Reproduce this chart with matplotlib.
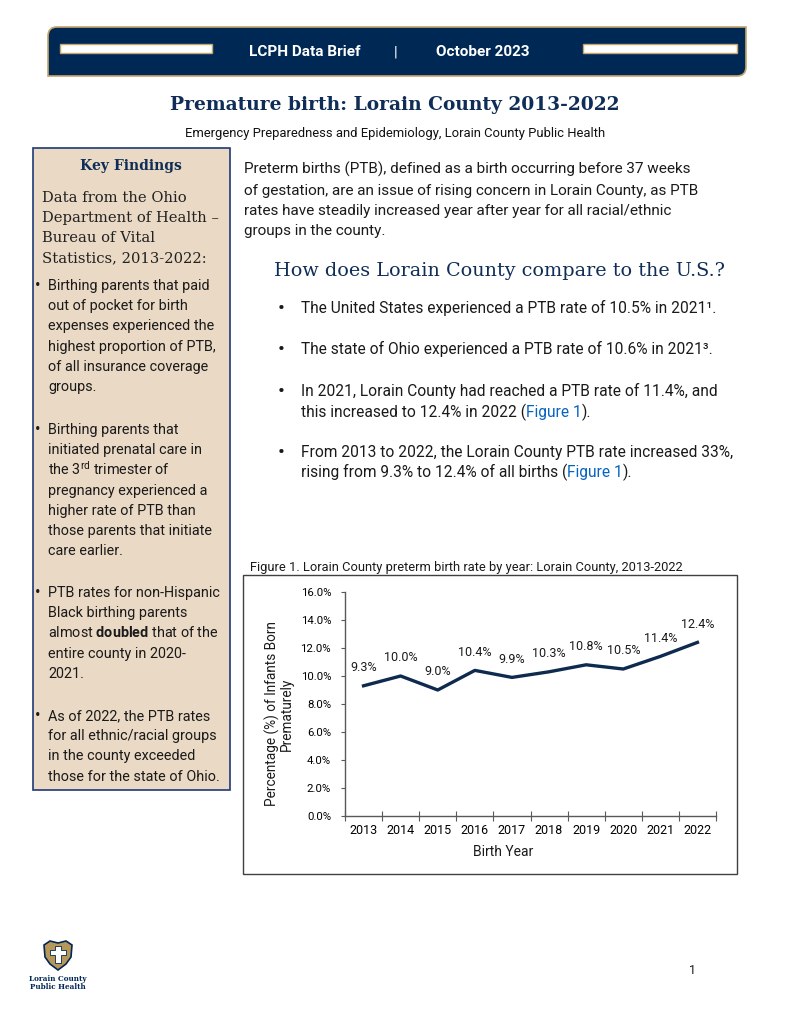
import numpy as np
import matplotlib.pyplot as plt
from matplotlib.patches import Rectangle, PathPatch, Polygon
from matplotlib.path import Path

W, H = 791, 1024

years = [2013, 2014, 2015, 2016, 2017, 2018, 2019, 2020, 2021, 2022]
ptb_rate = [9.3, 10.0, 9.0, 10.4, 9.9, 10.3, 10.8, 10.5, 11.4, 12.4]
y_ticks = [0, 2, 4, 6, 8, 10, 12, 14, 16]

key_intro = ["Data from the Ohio", "Department of Health \u2013",
             "Bureau of Vital", "Statistics, 2013-2022:"]
key_bullets = [
    ["Birthing parents that paid", "out of pocket for birth",
     "expenses experienced the", "highest proportion of PTB,",
     "of all insurance coverage", "groups."],
    ["Birthing parents that", "initiated prenatal care in",
     "the 3$^{\\rm rd}$ trimester of", "pregnancy experienced a",
     "higher rate of PTB than", "those parents that initiate",
     "care earlier."],
    ["PTB rates for non-Hispanic", "Black birthing parents",
     "almost $\\bf{doubled}$ that of the", "entire county in 2020-",
     "2021."],
    ["As of 2022, the PTB rates", "for all ethnic/racial groups",
     "in the county exceeded", "those for the state of Ohio."],
]
intro_lines = ["Preterm births (PTB), defined as a birth occurring before 37 weeks",
               "of gestation, are an issue of rising concern in Lorain County, as PTB",
               "rates have steadily increased year after year for all racial/ethnic",
               "groups in the county."]

NAVY = "#002855"
TITLE = "#0f2d56"
GOLD = "#c4a56a"
BEIGE = "#ead9c4"
TEXT = "#1a1a1a"
LINK = "#0563c1"
LINE = "#0e2a4e"
SANS = ["Roboto", "DejaVu Sans"]
SERIF = ["DejaVu Serif"]

plt.rcParams["mathtext.fontset"] = "custom"
plt.rcParams["mathtext.rm"] = "Roboto"
plt.rcParams["mathtext.bf"] = "Roboto:bold"
plt.rcParams["mathtext.it"] = "Roboto:italic"

fig = plt.figure(figsize=(W / 100, H / 100), dpi=100)
bg = fig.add_axes([0, 0, 1, 1])
bg.set_xlim(0, W)
bg.set_ylim(H, 0)
bg.axis("off")


def put(x, y, s, size, color=TEXT, family=SANS, weight="normal", ha="left"):
    return bg.text(x, y, s, fontsize=size, color=color, family=family,
                   fontweight=weight, ha=ha, va="baseline")


def runs(x, y, parts, size):
    r = fig.canvas.get_renderer()
    for s, color in parts:
        t = put(x, y, s, size, color=color)
        x += t.get_window_extent(r).width


# header banner: rounded top-left and bottom-right corners
x0, x1, y0, y1, rr = 48, 746, 27, 76, 9
verts = [(x0 + rr, y0), (x1, y0), (x1, y1 - rr), (x1, y1), (x1 - rr, y1),
         (x0, y1), (x0, y0 + rr), (x0, y0), (x0 + rr, y0)]
codes = [Path.MOVETO, Path.LINETO, Path.LINETO, Path.CURVE3, Path.CURVE3,
         Path.LINETO, Path.LINETO, Path.CURVE3, Path.CURVE3]
bg.add_patch(PathPatch(Path(verts, codes), facecolor=NAVY, edgecolor=GOLD, lw=1.2))
bg.add_patch(Rectangle((60, 44), 152, 9, facecolor="white", edgecolor=GOLD, lw=1))
bg.add_patch(Rectangle((583, 44), 154, 9, facecolor="white", edgecolor=GOLD, lw=1))
put(305, 56, "LCPH Data Brief", 11, color="white", weight="bold", ha="center")
put(396, 56, "|", 11, color="white", ha="center")
put(483, 56, "October 2023", 11, color="white", weight="bold", ha="center")

put(395, 110, "Premature birth: Lorain County 2013-2022", 13.4, color=TITLE,
    family=SERIF, weight="bold", ha="center")
put(395, 137, "Emergency Preparedness and Epidemiology, Lorain County Public Health",
    9.4, color="#111111", ha="center")

# key findings side box
bg.add_patch(Rectangle((33, 148), 197, 642, facecolor=BEIGE, edgecolor="#1f3a78", lw=1.2))
put(131, 170, "Key Findings", 10, color=TITLE, family=SERIF, weight="bold", ha="center")
for i, line in enumerate(key_intro):
    put(42, 202 + i * 20, line, 10.6, color="#222222", family=SERIF)
bullet_y = [290, 434, 597, 720]
for by, lines in zip(bullet_y, key_bullets):
    put(35, by, "\u2022", 12)
    for i, line in enumerate(lines):
        put(48, by + i * 20.2, line, 10.4)

# right column text
for i, line in enumerate(intro_lines):
    put(244, 174 + i * 20.5, line, 11)
put(274, 276, "How does Lorain County compare to the U.S.?", 13.8, color=TITLE, family=SERIF)

BS = 11.2
put(278, 314, "\u2022", 15)
put(301, 313, "The United States experienced a PTB rate of 10.5% in 2021\u00b9.", BS)
put(278, 355, "\u2022", 15)
put(301, 354, "The state of Ohio experienced a PTB rate of 10.6% in 2021\u00b3.", BS)
put(278, 397, "\u2022", 15)
put(301, 396, "In 2021, Lorain County had reached a PTB rate of 11.4%, and", BS)
runs(301, 417, [("this increased to 12.4% in 2022 (", TEXT), ("Figure 1", LINK),
                (").", TEXT)], BS)
put(278, 458, "\u2022", 15)
put(301, 457, "From 2013 to 2022, the Lorain County PTB rate increased 33%,", BS)
runs(301, 477, [("rising from 9.3% to 12.4% of all births (", TEXT), ("Figure 1", LINK),
                (").", TEXT)], BS)

# figure 1
put(250, 571, "Figure 1. Lorain County preterm birth rate by year: Lorain County, 2013-2022", 9.3)
bg.add_patch(Rectangle((243, 575), 494, 299, facecolor="white", edgecolor="#404040", lw=1))

ax = fig.add_axes([345 / W, 1 - 816 / H, 371 / W, 224 / H])
xs = np.arange(len(years))
ax.plot(xs, ptb_rate, color=LINE, lw=2.4, solid_joinstyle="round")
for xi, v in zip(xs, ptb_rate):
    ax.annotate(f"{v:.1f}%", (xi, v), xytext=(0, 13), textcoords="offset points",
                ha="center", va="center", fontsize=9, family=SANS, color=TEXT)
ax.set_xlim(-0.5, len(years) - 0.5)
ax.set_ylim(0, 16)
ax.set_yticks(y_ticks)
ax.set_yticklabels([f"{v:.1f}%" for v in y_ticks], family=SANS, fontsize=8.2)
ax.set_xticks(np.arange(len(years) + 1) - 0.5)
ax.set_xticklabels([])
ax.set_xticks(xs, minor=True)
ax.set_xticklabels([str(y) for y in years], minor=True, family=SANS, fontsize=9)
ax.tick_params(axis="x", which="major", direction="inout", length=7, color="#595959")
ax.tick_params(axis="x", which="minor", length=0, pad=6)
ax.tick_params(axis="y", length=3, pad=7, color="#595959")
for s in ("top", "right"):
    ax.spines[s].set_visible(False)
for s in ("left", "bottom"):
    ax.spines[s].set_color("#595959")
    ax.spines[s].set_linewidth(1)
ax.patch.set_alpha(0)

bg.text(279, 714, "Percentage (%) of Infants Born\nPrematurely", rotation=90,
        ha="center", va="center", fontsize=9.8, family=SANS, color=TEXT,
        multialignment="center", linespacing=1.0)
put(503, 856, "Birth Year", 10, ha="center")

# footer logo and page number
bg.add_patch(Polygon([(44, 945), (50, 941), (58, 943), (66, 941), (72, 945),
                      (71, 957), (66, 964), (58, 970), (50, 964), (45, 957)],
                     closed=True, facecolor="#b8975a", edgecolor=NAVY, lw=1.2))
bg.add_patch(Polygon([(55, 946), (61, 946), (61, 950), (66, 950), (66, 955),
                      (61, 955), (61, 963), (55, 963), (55, 955), (50, 955),
                      (50, 950), (55, 950)], closed=True, facecolor="white",
                     edgecolor=NAVY, lw=0.6))
put(58, 981, "Lorain County", 5.2, color=NAVY, family=SERIF, weight="bold", ha="center")
put(58, 989, "Public Health", 5.2, color=NAVY, family=SERIF, weight="bold", ha="center")
put(693, 974, "1", 9, ha="center")

fig.savefig("out.png", dpi=100)
